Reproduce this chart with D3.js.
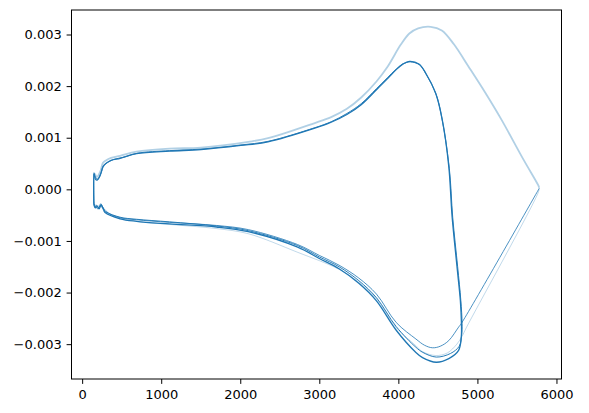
<!DOCTYPE html>
<html><head><meta charset="utf-8">
<script src="https://cdn.jsdelivr.net/npm/d3@7"></script>
<style>body{margin:0;background:#fff}svg{display:block}</style>
</head><body>
<svg id="chart" width="589" height="413"></svg>
<script>
// ---- tick labels ----
const xTicks = [0, 1000, 2000, 3000, 4000, 5000, 6000];
const yTicks = [-0.003, -0.002, -0.001, 0, 0.001, 0.002, 0.003];

// ---- series values ----
// outer light branch: upper side reaching the right-hand tip
const outerX = [150, 160, 185, 230, 262, 300, 366, 480, 688, 1104, 1503, 2101, 2351, 2934, 3150, 3349, 3530, 3723, 3861, 4029, 4139, 4250, 4409, 4550, 4703, 4887, 5096, 5304, 5585, 5769, 5782];
const outerY = [0.00025, 0.00030, 0.00024, 0.00035, 0.00051, 0.00056, 0.00061, 0.00065, 0.00073, 0.00079, 0.00081, 0.00092, 0.00099, 0.00128, 0.00140, 0.00156, 0.00178, 0.00209, 0.00237, 0.00280, 0.00302, 0.00312, 0.00315, 0.00308, 0.00281, 0.00238, 0.00188, 0.00135, 0.00057, 0.00008, 0.00003];

// light return from the tip, lower loop
const retDX = [5782, 5770, 4860, 4805, 4740, 4620, 4470, 4300, 4222, 3973, 3723, 3500, 3250, 2726, 2101, 1700, 1104, 688, 400, 250, 160];
const retDY = [0.00002, -0.00006, -0.00268, -0.00285, -0.00300, -0.00317, -0.00322, -0.00314, -0.00303, -0.00268, -0.00212, -0.00180, -0.00155, -0.00122, -0.00086, -0.00076, -0.00068, -0.00062, -0.00052, -0.00035, -0.00030];

// medium return from the tip, upper of the three lower minima
const retCX = [5782, 5760, 4796, 4762, 4638, 4530, 4430, 4330, 4222, 3973, 3723, 3500, 3250, 3000, 2726, 2101, 1700, 1104, 688, 480, 300, 260, 230, 200, 170, 150];
const retCY = [0.00002, -0.00004, -0.00260, -0.00267, -0.00293, -0.00304, -0.00307, -0.00302, -0.00290, -0.00258, -0.00203, -0.00172, -0.00147, -0.00128, -0.00107, -0.00078, -0.00070, -0.00064, -0.00059, -0.00055, -0.00044, -0.00036, -0.00031, -0.00038, -0.00033, -0.00028];

// dark closed loop B
const loopBX = [150, 175, 200, 240, 270, 320, 400, 520, 700, 1104, 1503, 2008, 2351, 2934, 3150, 3349, 3530, 3723, 3860, 3973, 4060, 4150, 4270, 4355, 4480, 4560, 4645, 4688, 4750, 4790, 4806, 4800, 4770, 4660, 4480, 4310, 4222, 3973, 3723, 3500, 3250, 3000, 2726, 2101, 1700, 1104, 688, 480, 300, 260, 235, 210, 185, 160, 150, 150];
const loopBY = [0.00030, 0.00022, 0.00020, 0.00032, 0.00046, 0.00052, 0.00058, 0.00062, 0.00070, 0.00075, 0.00078, 0.00086, 0.00093, 0.00119, 0.00131, 0.00147, 0.00166, 0.00195, 0.00216, 0.00233, 0.00243, 0.00247, 0.00241, 0.00222, 0.00183, 0.00130, 0.00040, -0.00055, -0.00150, -0.00215, -0.00260, -0.00283, -0.00304, -0.00318, -0.00325, -0.00316, -0.00306, -0.00266, -0.00210, -0.00177, -0.00150, -0.00131, -0.00109, -0.00080, -0.00071, -0.00063, -0.00058, -0.00054, -0.00043, -0.00034, -0.00028, -0.00036, -0.00031, -0.00035, -0.00024, 0.00030];

// dark closed loop A (deepest minimum)
const loopAX = [147, 150, 168, 190, 230, 265, 300, 366, 480, 688, 1104, 1503, 2008, 2351, 2934, 3150, 3349, 3530, 3723, 3860, 3973, 4060, 4139, 4260, 4347, 4472, 4555, 4638, 4680, 4742, 4784, 4798, 4796, 4762, 4638, 4480, 4306, 4222, 3973, 3723, 3500, 3250, 3000, 2726, 2101, 1700, 1104, 688, 480, 290, 272, 240, 215, 190, 168, 150, 147];
const loopAY = [-0.00027, 0.00032, 0.00020, 0.00018, 0.00028, 0.00044, 0.00050, 0.00056, 0.00060, 0.00069, 0.00074, 0.00077, 0.00085, 0.00092, 0.00118, 0.00130, 0.00145, 0.00164, 0.00193, 0.00214, 0.00232, 0.00243, 0.00248, 0.00243, 0.00225, 0.00186, 0.00135, 0.00044, -0.00053, -0.00150, -0.00215, -0.00260, -0.00286, -0.00312, -0.00328, -0.00335, -0.00326, -0.00316, -0.00273, -0.00216, -0.00182, -0.00154, -0.00134, -0.00112, -0.00082, -0.00073, -0.00067, -0.00062, -0.00057, -0.00045, -0.00040, -0.00030, -0.00038, -0.00033, -0.00036, -0.00030, -0.00027];

const series = [
  {x: outerX, y: outerY, opacity: 0.35, width: 1.8},
  {x: retDX,  y: retDY,  opacity: 0.28, width: 1.0},
  {x: retCX,  y: retCY,  opacity: 0.8,  width: 1.0},
  {x: loopBX, y: loopBY, opacity: 0.95, width: 1.0},
  {x: loopAX, y: loopAY, opacity: 1.0,  width: 1.3}
];

const color = "#1f77b4";
const box = {left: 71.5, top: 10, width: 490, height: 369};

const allX = series.flatMap(s => s.x), allY = series.flatMap(s => s.y);
const [xa, xb] = d3.extent(allX), [ya, yb] = d3.extent(allY);
const xPad = 0.05 * (xb - xa), yPad = 0.05 * (yb - ya);
const x = d3.scaleLinear().domain([xa - xPad, xb + xPad]).range([box.left, box.left + box.width]);
const y = d3.scaleLinear().domain([ya - yPad, yb + yPad]).range([box.top + box.height, box.top]);

const svg = d3.select("#chart");
svg.append("defs").append("clipPath").attr("id", "clip")
  .append("rect").attr("x", box.left).attr("y", box.top).attr("width", box.width).attr("height", box.height);

const line = d3.line().x(d => x(d[0])).y(d => y(d[1])).curve(d3.curveCatmullRom.alpha(0.5));
const g = svg.append("g").attr("clip-path", "url(#clip)");
series.forEach(s => {
  g.append("path")
    .attr("d", line(s.x.map((v, i) => [v, s.y[i]])))
    .attr("fill", "none")
    .attr("stroke", color)
    .attr("stroke-opacity", s.opacity)
    .attr("stroke-width", s.width)
    .attr("stroke-linejoin", "round");
});

const font = "'DejaVu Sans', sans-serif";
const xAxis = svg.append("g").attr("transform", `translate(0,${box.top + box.height})`)
  .call(d3.axisBottom(x).tickValues(xTicks).tickFormat(d3.format("d")).tickSize(4.9).tickPadding(4.9));
const yAxis = svg.append("g").attr("transform", `translate(${box.left},0)`)
  .call(d3.axisLeft(y).tickValues(yTicks).tickFormat(d3.format(".3f")).tickSize(4.9).tickPadding(4.9));
[xAxis, yAxis].forEach(a => {
  a.select(".domain").remove();
  a.selectAll(".tick line").attr("stroke", "#000").attr("stroke-width", 1);
  a.selectAll(".tick text").attr("fill", "#000").style("font-family", font).style("font-size", "13px");
});
xAxis.selectAll(".tick text").attr("dy", "0.78em");

svg.append("rect").attr("x", box.left).attr("y", box.top).attr("width", box.width).attr("height", box.height)
  .attr("fill", "none").attr("stroke", "#000").attr("stroke-width", 1);
</script>
</body></html>
